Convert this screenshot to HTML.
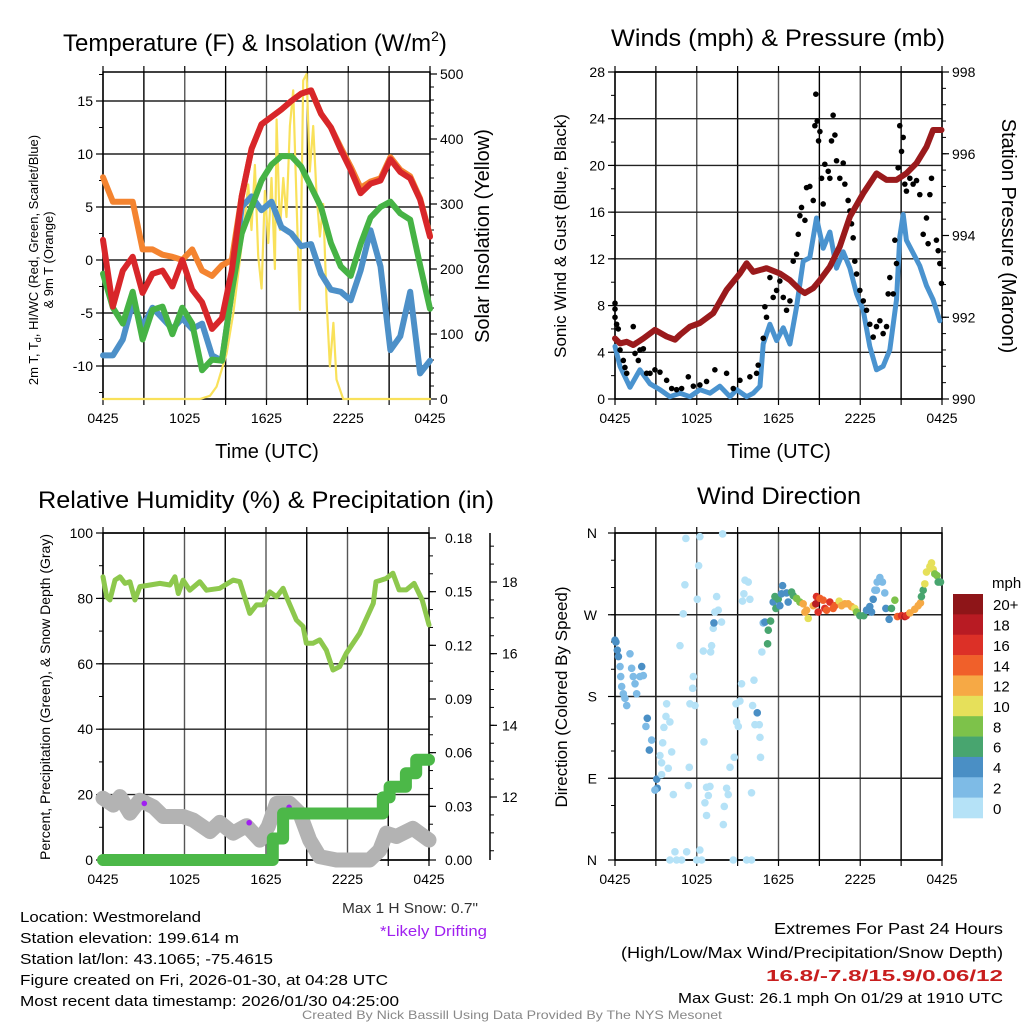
<!DOCTYPE html>
<html><head><meta charset="utf-8"><style>
html,body{margin:0;padding:0;background:#fff;}
svg{display:block;font-family:"Liberation Sans",sans-serif;}
</style></head><body>
<svg id="c" width="1024" height="1024" viewBox="0 0 1024 1024"></svg>
<script>
// ---------- DATA ----------
const redT   = [1.9,-4.4,-1,0.3,-3.1,-1.3,-1,-2.5,0,-2.8,-4,-6.5,-5.5,-1,6,10.5,12.8,13.5,14.2,15,15.7,16,13.8,12.5,10.4,8.5,6.3,7.2,7.5,9.5,8.3,7.7,5.7,2.2];
const orangeT= [7.8,5.5,5.5,5.5,1,1,0.5,0.3,0,1,-1,-1.5,-0.5,0,6,10.5,12.8,13.5,14.2,15,15.7,16,13.8,12.5,10.6,8.8,6.8,7.4,7.7,9.7,8.5,7.9,5.8,2.3];
const greenT = [-1.3,-4.5,-6,-3,-7.5,-4.7,-4.4,-7,-4.5,-6,-10.4,-9.4,-9.5,-3,2.5,5,7.5,9,9.8,9.8,8.8,6.9,5,1.6,-0.6,-1.5,1.5,4,5,5.5,4.4,3.8,-0.5,-4.6];
const blueT  = [-9,-9,-7.5,-4,-6.3,-4.5,-5.5,-6.5,-5.5,-6.5,-6,-9,-9.5,-3,5,6,4.7,5.5,3.1,2.5,1.3,1.5,-1.3,-2.8,-3,-3.8,-1,2.8,-0.6,-8.5,-7.2,-3,-10.7,-9.5];
const solarHours = [0,7.11,7.85,8.34,9.07,9.56,10.05,10.42,10.66,10.9,11.15,11.39,11.64,11.88,12.13,12.37,12.62,12.74,12.98,13.23,13.47,13.72,13.96,14.21,14.45,14.69,14.94,15.18,15.43,15.67,15.92,16.16,16.41,16.65,16.91,17.14,17.63,24];
const solarVals  = [0,0,5,19,70,132,214,280,330,260,360,220,170,320,240,340,200,430,260,340,280,420,475,300,137,490,500,350,420,316,250,300,150,50,117,30,0,0];
const presHours = [0,0.37,0.86,1.34,2.08,2.93,3.79,4.4,4.77,5.5,6.23,7.21,8.19,9.17,9.66,10.15,11.12,12.1,12.84,13.57,13.94,14.55,15.04,15.77,16.5,17.24,18.22,19.19,19.93,20.66,21.39,22.13,22.86,23.35,23.96];
const presVals  = [991.48,991.36,991.4,991.32,991.48,991.69,991.53,991.45,991.57,991.77,991.86,992.1,992.67,993.07,993.32,993.11,993.2,993.07,992.91,992.67,992.59,992.71,992.91,993.24,993.73,994.46,995.03,995.52,995.36,995.36,995.52,995.77,996.17,996.58,996.58];
const windHours = [0,0.37,1.1,1.83,2.57,3.3,4.03,4.77,5.5,6.23,6.97,7.7,8.44,8.93,9.66,10.15,10.64,10.88,11.37,11.86,12.35,12.84,13.33,13.81,14.3,14.79,15.28,15.77,16.26,16.75,17.24,17.73,18.22,18.7,19.19,19.68,20.17,20.66,20.9,21.15,21.39,21.88,22.37,22.86,23.35,23.84];
const windVals  = [4.5,2.8,1,2.5,1.3,0.8,0.2,0.5,0.2,0.8,0.5,1.1,0.2,0.8,0.2,0.5,1.1,4.7,6.4,5,6.1,4.7,7.9,11.8,12.1,15.5,12.9,14.3,11.2,12.6,11.2,9,7.6,4.5,2.5,2.8,4.2,8.5,13.9,15.8,13.6,12.5,11.4,9.7,8.5,6.7];
const gustHours = [0,0,0,0.12,0.24,0.37,0.61,0.73,0.86,1.34,1.47,1.71,1.83,2.08,2.32,2.57,2.93,3.3,3.79,4.16,4.52,4.89,5.38,5.75,6.23,6.72,7.33,8.19,8.68,9.17,9.9,10.39,10.51,10.88,11.0,11.12,11.37,11.61,11.86,12.1,12.35,12.59,12.84,13.08,13.33,13.45,13.57,13.69,13.94,14.06,14.3,14.55,14.67,14.74,14.84,14.94,15.04,15.16,15.28,15.4,15.65,15.77,15.89,16.01,16.14,16.26,16.5,16.75,16.87,17.11,17.24,17.36,17.48,17.6,17.73,17.97,18.22,18.46,18.7,18.95,19.19,19.44,19.68,19.93,20.05,20.17,20.42,20.54,20.66,20.78,20.9,21.03,21.15,21.27,21.39,21.64,21.88,22.13,22.37,22.62,22.86,22.98,23.11,23.23,23.59,23.72,23.84,23.96];
const gustVals  = [7.7,8.2,7.0,6.4,6.0,4.2,3.3,2.7,2.2,6.2,3.9,3.3,4.2,4.3,2.2,2.2,2.5,2.3,1.6,0.9,0.8,0.9,1.9,1.1,1.2,1.5,2.5,2.2,0.9,1.6,1.9,2.2,2.9,5.2,7.9,7.0,10.4,8.7,9.3,10.1,8.7,7.6,8.4,11.8,12.4,14.1,15.7,16.4,15.3,18.1,18.2,17.0,23.4,26.1,23.8,22.1,22.9,18.9,16.7,20.1,19.5,18.9,22.1,24.3,22.6,20.4,18.9,20.2,18.4,17.0,16.1,15.0,13.8,11.8,10.7,9.3,8.4,7.6,6.4,5.3,6.2,6.7,5.6,6.2,9.0,10.4,9.0,13.6,11.6,19.8,23.4,21.2,22.4,18.4,17.8,18.9,18.4,18.7,17.5,14.1,15.5,13.3,17.5,18.9,13.6,12.7,11.6,9.9];
const rhHours = [0,0.27,0.51,0.88,1.25,1.62,1.98,2.35,2.72,3.46,4.19,4.93,5.29,5.54,5.9,6.39,7.13,7.62,8.6,9.58,10.07,10.81,11.3,11.79,12.28,12.77,13.26,13.5,14.24,14.73,14.97,15.46,15.95,16.44,16.93,17.42,17.91,18.89,19.9,20.1,20.85,21.34,21.8,22.32,22.9,23.5,24];
const rhVals  = [86.6,80.5,79.5,85.6,86.6,84.6,85.1,79.5,83.6,84.1,84.6,84.1,86.6,81.5,85.6,82.5,85.1,82.5,83.1,85.6,85.1,75.4,78,78,82,80.5,83.1,80.5,73.4,71.4,66.3,66.3,67.3,64.2,58.1,59.1,63.2,69.3,78.5,85.1,86.1,87.7,82.6,82.6,84.6,79.5,71.9];
const snowHours = [0,0.76,1.25,1.98,2.72,3.7,4.44,5.9,6.64,7.87,8.6,9.58,10.56,11.54,12.16,12.77,13.75,14.48,15.22,15.95,17.18,18.41,19.63,20.37,20.86,21.6,22.81,24];
const snowVals  = [18.9,16.8,19.4,14.3,18.3,16.3,13.3,13.3,12.2,8.7,11.5,8.2,10.5,6.1,10.2,17.3,17.3,14.3,6.1,1,0,0,0,3,8.2,7.2,9.7,6.1];
const precipHours = [0,12.5,12.5,13.26,13.26,20.6,20.6,21.1,21.1,22.3,22.3,23.06,23.06,24];
const precipVals  = [0,0,0.012,0.012,0.026,0.026,0.035,0.035,0.041,0.041,0.0485,0.0485,0.056,0.056];
const driftHours = [3.04,10.76,13.7];
const driftVals  = [17.3,11.4,16.1];
const dirHours = [0,0.07,0.17,0.25,0.37,0.42,0.49,0.61,0.73,0.86,1.1,1.22,1.34,1.47,1.59,1.83,1.96,2.08,2.37,2.27,2.69,2.52,3.3,3.42,3.06,3.1,2.93,3.79,3.74,4.03,3.59,3.5,4.16,3.91,3.42,4.28,5.38,5.45,5.2,6.23,7.9,6.14,5.13,6.04,5.01,4.77,5.75,5.7,5.5,5.87,6.53,6.72,6.85,6.6,6.72,6.97,7.95,8.02,8.19,8.31,8.44,8.75,8.88,9.17,8.92,9.05,9.29,10.2,10.1,10.44,10.27,10.59,10.64,10.68,10.02,9.54,9.78,9.46,9.9,9.36,7.46,7.58,7.33,7.82,7.21,7.09,6.48,7.02,7.26,6.23,6.36,6,4.4,4.03,4.52,4.89,5.26,8.68,9.66,10.02,10.78,10.88,11,11.25,11.42,11.2,11.61,11.81,11.74,11.98,12.3,12.22,12.1,12.59,12.71,12.96,13.08,13.33,13.57,13.81,14.06,14.18,13.94,14.55,14.79,14.74,14.91,15.04,15.28,15.4,15.53,15.77,16.01,16.14,16.45,16.63,16.87,17.11,17.36,17.6,17.73,17.97,18.26,18.46,18.7,18.95,18.83,19.07,19.24,19.44,19.63,19.8,19.19,19.88,20.12,20.29,20.54,20.73,21.03,21.27,21.39,21.64,22,22.25,22.42,22.49,22.62,22.74,22.86,23.11,23.23,23.35,23.47,23.64,23.72,23.89];
const dirVals  = [242,240,231,224,213,202,191,183,178,170,227,211,202,194,183,202,213,203,156,147,132,121,115,107,89,79,77,172,158,152,146,129,119,101,94,72,82,102,354,356,359,324,303,287,271,236,202,189,172,170,130,80,71,63,49,81,39,59,79,72,102,113,172,175,152,147,194,198,170,162,149,149,135,113,74,308,306,293,287,285,290,275,273,262,255,236,230,229,261,11,0,0,9,0,0,0,9,0,0,0,229,261,262,253,263,238,284,277,290,287,302,293,280,294,284,295,291,288,284,282,275,266,273,280,290,282,273,288,286,277,275,284,277,280,285,280,282,282,279,277,273,269,269,275,279,287,273,297,306,311,306,294,297,277,265,277,286,268,269,268,269,272,276,280,283,290,297,304,317,323,327,320,315,313,306,306];
const dirSpeed = [5,5,5,5,3,3,3,3,3,3,3,3,3,3,3,3,5,3,5,3,3,5,1,1,5,5,3,1,1,1,1,1,1,1,1,1,1,1,1,1,1,1,1,1,1,1,1,1,1,1,1,1,1,1,1,1,1,1,1,1,1,1,1,1,1,1,1,1,1,5,1,1,1,1,1,1,1,1,1,1,1,1,1,1,1,1,1,1,5,1,1,1,1,1,1,1,1,1,1,1,1,3,5,7,7,7,5,7,7,7,5,5,5,5,5,7,7,9,9,13,13,11,13,13,17,19,17,15,15,17,15,17,15,15,11,13,13,13,13,11,9,7,7,5,5,5,5,3,3,3,3,3,3,5,5,7,9,15,17,19,17,13,13,13,13,7,7,11,11,11,11,11,9,9,7,7];
const cbLabels = ['20+','18','16','14','12','10','8','6','4','2','0'];
const cbColors = ['#8e1518','#b81b23','#dc3027','#f0602a','#f6a945','#e6e05a','#7dc24a','#48a56f','#4a8fc5','#7ebbe6','#b5e2f7'];
const timeLabels = ['0425','1025','1625','2225','0425'];
const tempTicks = [-10,-5,0,5,10,15];
const solarTicks = [0,100,200,300,400,500];
const windTicks = [0,4,8,12,16,20,24,28];
const presTicks = [990,992,994,996,998];
const rhTicks = [0,20,40,60,80,100];
const precTicks = [0,0.03,0.06,0.09,0.12,0.15,0.18];
const snowTicks = [12,14,16,18];
const dirLabels = ['N','E','S','W','N'];

// ---------- HELPERS ----------
const NS='http://www.w3.org/2000/svg';
const svg=document.getElementById('c');
function el(tag,attrs,parent){const e=document.createElementNS(NS,tag);for(const k in attrs)e.setAttribute(k,attrs[k]);(parent||svg).appendChild(e);return e;}
function txt(s,x,y,size,anchor,extra,parent){const t=el('text',Object.assign({x:x,y:y,'font-size':size,'text-anchor':anchor||'start',fill:'#000'},extra||{}),parent);t.textContent=s;return t;}
function lin(d0,d1,r0,r1){return v=>r0+(v-d0)*(r1-r0)/(d1-d0);}
function polyline(xs,ys,xf,yf,color,w,name,parent){let d='';for(let i=0;i<xs.length;i++){d+=(i?'L':'M')+xf(xs[i]).toFixed(1)+','+yf(ys[i]).toFixed(1);}const p=el('path',{d:d,fill:'none',stroke:color,'stroke-width':w,'stroke-linejoin':'round','stroke-linecap':'round'},parent);


return p;}
function even(n){const a=[];for(let i=0;i<n;i++)a.push(i*24/(n-1));return a;}
function gridAndFrame(g,L,R,T,B,xf,yfs,hvals){
  for(let k=0;k<=8;k++){const x=xf(k*3);const l=el('line',{x1:x,x2:x,y1:T,y2:B,stroke:(k%2?'#000':'#555'),'stroke-width':1.4},g);
  
  }
  hvals.forEach(v=>{const y=yfs(v);const l=el('line',{x1:L,x2:R,y1:y,y2:y,stroke:'#222','stroke-width':1.4},g);
  
  });
  const f=el('rect',{x:L,y:T,width:R-L,height:B-T,fill:'none',stroke:'#000','stroke-width':1.5},g);
  
  
  for(let k=0;k<=8;k++){const x=xf(k*3);el('line',{x1:x,x2:x,y1:B,y2:B+6,stroke:'#000','stroke-width':1.2},g);el('line',{x1:x,x2:x,y1:T,y2:T-6,stroke:'#000','stroke-width':1.2},g);}
  timeLabels.forEach((s,i)=>{const t=txt(s,xf(i*6),B+24,14,'middle',{},g);
  
  });
}
function yAxisTicks(g,x,dir,ticks,yf,fmt,minorStep,lo,hi,labelOff){
  ticks.forEach(v=>{const y=yf(v);el('line',{x1:x,x2:x+dir*7,y1:y,y2:y,stroke:'#000','stroke-width':1.2},g);
  const t=txt(fmt(v),x+dir*labelOff,y+5,14,dir<0?'end':'start',{},g);
  
  });
  if(minorStep){for(let v=lo;v<=hi+1e-9;v+=minorStep){const y=yf(v);el('line',{x1:x,x2:x+dir*4,y1:y,y2:y,stroke:'#000','stroke-width':1},g);}}
}

// ---------- PANEL 1 ----------
{
const g=el('g',{});


const L=103,R=430,T=72,B=399;
const xf=lin(0,24,L,R);
const yT=lin(0,10,260,154);
const yS=lin(0,500,399,74);
gridAndFrame(g,L,R,T,B,xf,yT,tempTicks);
yAxisTicks(g,L,-1,tempTicks,yT,v=>String(v),2.5,-12.5,17.5,10);
yAxisTicks(g,R,1,solarTicks,yS,v=>String(v),20,0,500,10);
const ev=even(redT.length);
polyline(solarHours,solarVals,xf,yS,'#f9e15a',2.2,'solar-insolation-line',g);
polyline(ev,orangeT,xf,yT,'#f48430',6,'9m-temperature-line',g);
polyline(ev,blueT,xf,yT,'#4d90c8',6,'windchill-line',g);
polyline(ev,greenT,xf,yT,'#46b345',6,'dewpoint-line',g);
polyline(ev,redT,xf,yT,'#d8262a',6,'temperature-line',g);
let t=txt('Temperature (F) & Insolation (W/m',63,51,24,'start',{},g);
const sp=el('tspan',{'font-size':14,dy:-10},t);sp.textContent='2';
const sp2=el('tspan',{'font-size':24,dy:10},t);sp2.textContent=')';

t=txt('Time (UTC)',267,458,20,'middle',{},g);

t=txt('2m T, T',0,0,13,'middle',{transform:'translate(38,260) rotate(-90)'},g);
const sub=el('tspan',{'font-size':9,dy:3},t);sub.textContent='d';
const rest=el('tspan',{'font-size':13,dy:-3},t);rest.textContent=', HI/WC (Red, Green, Scarlet/Blue)';

t=txt('& 9m T (Orange)',0,0,13,'middle',{transform:'translate(53,260) rotate(-90)'},g);

t=txt('Solar Insolation (Yellow)',0,0,20,'middle',{transform:'translate(489,236) rotate(-90)'},g);

}

// ---------- PANEL 2 ----------
{
const g=el('g',{});


const L=615,R=942,T=72,B=399;
const xf=lin(0,24,L,R);
const yW=lin(0,28,399,72);
const yP=lin(990,998,399,72);
gridAndFrame(g,L,R,T,B,xf,yW,windTicks);
yAxisTicks(g,L,-1,windTicks,yW,v=>String(v),2,0,28,10);
yAxisTicks(g,R,1,presTicks,yP,v=>String(v),0.4,990,998,10);
polyline(windHours,windVals,xf,yW,'#4a93cf',5,'sonic-wind-line',g);
gustHours.forEach((h,i)=>{const c=el('circle',{cx:xf(h),cy:yW(gustVals[i]),r:2.8,fill:'#000'},g);

});
polyline(presHours,presVals,xf,yP,'#9a1a1c',6,'pressure-line',g);
let t=txt('Winds (mph) & Pressure (mb)',611,46,24,'start',{textLength:334,lengthAdjust:'spacingAndGlyphs'},g);

t=txt('Time (UTC)',779,458,20,'middle',{},g);

t=txt('Sonic Wind & Gust (Blue, Black)',0,0,17,'middle',{transform:'translate(566,236) rotate(-90)'},g);

t=txt('Station Pressure (Maroon)',0,0,20,'middle',{transform:'translate(1002,236) rotate(90)'},g);

}

// ---------- PANEL 3 ----------
{
const g=el('g',{});


const L=103,R=429,T=533,B=860;
const xf=lin(0,24,L,R);
const yR=lin(0,100,860,533);
const yPr=lin(0,0.18,860,538);
const ySn=lin(12,18,797,582);
gridAndFrame(g,L,R,T,B,xf,yR,rhTicks);
yAxisTicks(g,L,-1,rhTicks,yR,v=>String(v),10,0,100,10);
yAxisTicks(g,R,1,precTicks,yPr,v=>v.toFixed(2),0.01,0,0.18,16);
const ax=el('line',{x1:490,x2:490,y1:533,y2:860,stroke:'#000','stroke-width':1.5},g);

snowTicks.forEach(v=>{const y=ySn(v);el('line',{x1:490,x2:497,y1:y,y2:y,stroke:'#000','stroke-width':1.2},g);
const t=txt(String(v),502,y+5,14,'start',{},g);
});
for(let v=10.5;v<=19;v+=0.5){const y=ySn(v);if(y>=533&&y<=860)el('line',{x1:490,x2:494,y1:y,y2:y,stroke:'#000','stroke-width':1},g);}
polyline(snowHours,snowVals,xf,yR,'#b3b3b3',15,'snow-depth-line',g);
driftHours.forEach((h,i)=>{const c=el('circle',{cx:xf(h),cy:yR(driftVals[i]),r:2.8,fill:'#a020f0'},g);

});
polyline(precipHours,precipVals,xf,yPr,'#4cb848',12,'precipitation-line',g);
polyline(rhHours,rhVals,xf,yR,'#8dc84d',5,'relative-humidity-line',g);
let t=txt('Relative Humidity (%) & Precipitation (in)',38,508,24,'start',{textLength:456,lengthAdjust:'spacingAndGlyphs'},g);

t=txt('Percent, Precipitation (Green), & Snow Depth (Gray)',0,0,14,'middle',{transform:'translate(50,697) rotate(-90)'},g);

}

// ---------- PANEL 4 ----------
{
const g=el('g',{});


const L=615,R=942,T=533,B=860;
const xf=lin(0,24,L,R);
const yD=lin(0,360,860,533);
gridAndFrame(g,L,R,T,B,xf,yD,[0,90,180,270,360]);
dirLabels.forEach((s,i)=>{const y=yD(i*90);el('line',{x1:L,x2:L-7,y1:y,y2:y,stroke:'#000','stroke-width':1.2},g);
const t=txt(s,L-18,y+5,14,'end',{},g);
});
for(let v=0;v<=360;v+=30){const y=yD(v);el('line',{x1:L,x2:L-4,y1:y,y2:y,stroke:'#000','stroke-width':1},g);}
dirHours.forEach((h,i)=>{const bin=Math.min(10,Math.floor(dirSpeed[i]/2));
const c=el('circle',{cx:xf(h),cy:yD(dirVals[i]),r:3.8,fill:cbColors[10-bin]},g);

});
let t=txt('Wind Direction',697,504,24,'start',{textLength:164,lengthAdjust:'spacingAndGlyphs'},g);

t=txt('Direction (Colored By Speed)',0,0,17,'middle',{transform:'translate(567,697) rotate(-90)'},g);

const cb=el('g',{},g);

const bh=(818-594)/cbColors.length;
cbColors.forEach((c,i)=>{el('rect',{x:953,y:594+i*bh,width:30,height:bh+0.3,fill:c},cb);
const l=txt(cbLabels[i],993,594+i*bh+bh/2+6,15,'start',{},cb);
});
t=txt('mph',992,588,15,'start',{},cb);

}

// ---------- FOOTER TEXT ----------
{
const info=[['Location: Westmoreland',181],['Station elevation: 199.614 m',219],['Station lat/lon: 43.1065; -75.4615',253],['Figure created on Fri, 2026-01-30, at 04:28 UTC',368],['Most recent data timestamp: 2026/01/30 04:25:00',379]];
info.forEach((p,i)=>{const t=txt(p[0],20,922+i*21,15,'start',{textLength:p[1],lengthAdjust:'spacingAndGlyphs'});
});
let t=txt('Max 1 H Snow: 0.7"',478,913,15,'end',{fill:'#333',textLength:136,lengthAdjust:'spacingAndGlyphs'});

t=txt('*Likely Drifting',487,936,15,'end',{fill:'#a020f0',textLength:107,lengthAdjust:'spacingAndGlyphs'});

t=txt('Extremes For Past 24 Hours',1003,934,16,'end',{textLength:229,lengthAdjust:'spacingAndGlyphs'});

t=txt('(High/Low/Max Wind/Precipitation/Snow Depth)',1003,958,16,'end',{textLength:382,lengthAdjust:'spacingAndGlyphs'});

t=txt('16.8/-7.8/15.9/0.06/12',1003,981,16,'end',{fill:'#c81e1e','font-weight':'bold',textLength:237,lengthAdjust:'spacingAndGlyphs'});

t=txt('Max Gust: 26.1 mph On 01/29 at 1910 UTC',1003,1003,15,'end',{textLength:325,lengthAdjust:'spacingAndGlyphs'});

t=txt('Created By Nick Bassill Using Data Provided By The NYS Mesonet',512,1019,12,'middle',{fill:'#888',textLength:420,lengthAdjust:'spacingAndGlyphs'});

}
</script>
</body></html>
